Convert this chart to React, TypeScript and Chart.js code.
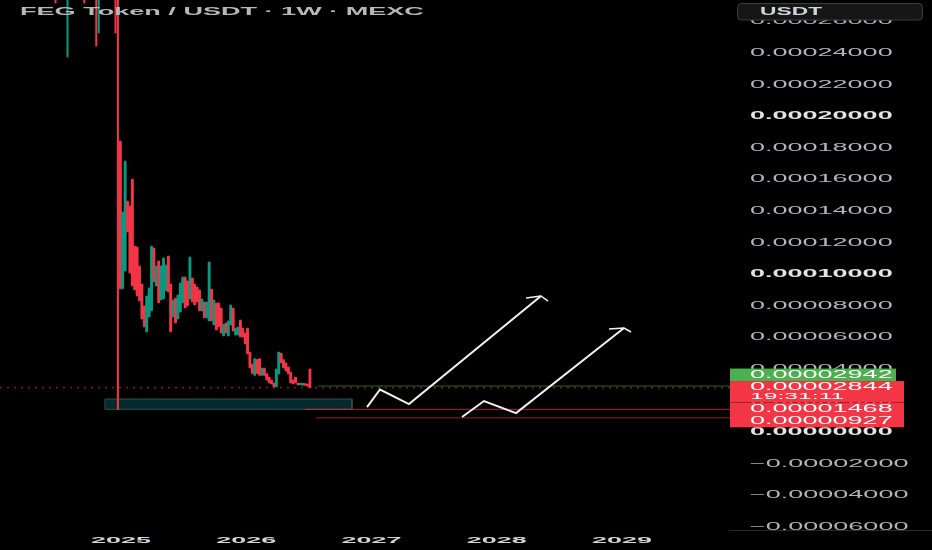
import React, { useEffect, useRef } from 'react';
import { Chart, registerables } from 'chart.js';
Chart.register(...registerables);

// values in micro-USDT (1e-6)
const U = 1e-6;

// week offsets relative to the week starting 30 Dec 2024
const weeks = [
  -27, -22, -15, -10, -9, -2, -1,
  0, 1, 2, 3, 4, 5, 6, 7, 8, 9,
  10, 11, 12, 13, 14, 15, 16, 17, 18, 19,
  20, 21, 22, 23, 24, 25, 26, 27, 28, 29,
  30, 31, 32, 33, 34, 35, 36, 37, 38, 39,
  40, 41, 42, 43, 44, 45, 46, 47, 48, 49,
  50, 51, 52, 53, 54, 55, 56, 57, 58, 59,
  60, 61, 62, 63, 64, 65, 66, 67, 68, 69,
  70, 71, 72, 73, 74, 75, 76, 77, 78, 79,
];
const opens = [
  330, 300, 340, 330, 298, 362, 318,
  184, 91.5, 102.5, 146, 143, 160, 117.7, 117, 105, 93.7,
  79.8, 64, 73.5, 77.3, 116.5, 93, 108.3, 84.3, 84.9, 90,
  111.4, 93.7, 73.5, 84.7, 72.2, 76.7, 82.4, 98, 95.6, 84.9,
  97.5, 93.7, 91.8, 89.9, 77.3, 82.2, 72.9, 71, 90.4, 68.4,
  81.6, 81.6, 78.4, 61.5, 68.9, 61.5, 68.4, 78.4, 62.1, 62.1,
  70.8, 65.7, 62.6, 65.7, 50.5, 43.0, 36.5, 45.8, 46.4, 36.5,
  40.4, 36.9, 34.7, 32.8, 31.0, 29.2, 37.4, 49.9, 45.8, 43.6,
  41.1, 37.9, 32.8, 34.7, 31.0, 30.4, 30.2, 30.7, 30.4, 39.9,
];
const highs = [
  345, 340, 352, 342, 346, 371, 380,
  184.5, 139.6, 171.8, 146.5, 143.3, 160.4, 118, 117.4, 105.4, 94,
  80.1, 86.4, 91.5, 118, 116.8, 105.4, 108.6, 105.4, 110.5, 106,
  111.7, 94, 83.9, 85.1, 87, 94.6, 98.4, 98.4, 95.9, 111.1,
  97.8, 94, 92.1, 90.2, 84.5, 82.6, 82.6, 107.9, 90.8, 83.9,
  82, 82, 78.8, 68.6, 69.3, 70.6, 80.7, 78.8, 66.1, 66.8,
  71.2, 66.1, 63, 66.1, 50.9, 43.4, 46.8, 46.2, 46.8, 40.8,
  40.8, 37.3, 35.1, 33.2, 31.3, 40.2, 50.9, 50.3, 46.2, 44,
  41.5, 38.3, 33.2, 35.1, 31.3, 31.3, 31.1, 31.0, 30.7, 40.2,
];
const lows = [
  271.8, 237.6, 271.8, 244.6, 252.8, 252.8, 14.68,
  90.8, 90.8, 102.2, 126.9, 100.9, 92.7, 90.2, 86.4, 83.2, 71.8,
  66.8, 63.6, 73.1, 76.9, 95.3, 92.7, 82, 83.9, 84.5, 89.6,
  88.9, 63.6, 73.1, 69.3, 71.8, 76.3, 82, 78.8, 80.1, 84.5,
  82.6, 80.7, 82.6, 76.9, 76.9, 72.5, 72.5, 70.6, 70.6, 68,
  64.9, 66.8, 63, 61.1, 63, 61.1, 68, 64.2, 61.7, 61.7,
  60.4, 60.4, 56, 49.7, 40.8, 37.3, 36.1, 37.3, 36.1, 36.1,
  36.1, 33.2, 31.3, 30.7, 28.8, 28.8, 37, 44, 40.8, 38.9,
  37, 31.3, 30.7, 31.3, 30.1, 30.1, 29.8, 29.8, 29.2, 28.4,
];
const closes = [
  300, 325, 305, 298, 332, 318, 286,
  91.5, 139, 171, 127.3, 101.3, 93, 90.5, 86.8, 83.6, 72.2,
  67.2, 86, 91.1, 117.6, 95.7, 105, 82.4, 105, 110.1, 105.6,
  89.3, 64, 83.5, 69.7, 86.6, 94.2, 98, 79.2, 80.5, 110.7,
  83, 81.1, 83, 77.3, 84.1, 72.9, 82.2, 107.5, 71, 83.5,
  65.3, 67.2, 63.4, 68.2, 63.4, 70.2, 80.3, 64.6, 65.7, 66.4,
  60.8, 60.8, 56.4, 50.1, 41.2, 37.7, 46.4, 37.7, 36.5, 40.4,
  36.5, 33.6, 31.7, 31.1, 29.2, 39.8, 50.5, 44.4, 41.2, 39.3,
  37.4, 31.7, 31.1, 31.7, 30.4, 31.0, 30.9, 30.1, 29.6, 28.44,
];

// axis ticks
const yearTicks = [2025, 2026, 2027, 2028, 2029];
const priceTicks = [
  -0.00006, -0.00004, -0.00002, 0, 0.00002, 0.00004, 0.00006, 0.00008,
  0.0001, 0.00012, 0.00014, 0.00016, 0.00018, 0.0002, 0.00022, 0.00024, 0.00026,
];

// price levels (µUSDT)
const lastPrice = 29.42;
const closePrice = 28.44;
const lowLevel1 = 14.68;
const lowLevel2 = 9.27;
const countdown = '19:31:11';
const lastPriceStart = 2026.573;
const low1Start = 2026.469;
const low2Start = 2026.557;

// drawn zone and arrows (x in years, y in µUSDT)
const zoneX = [2024.872, 2026.844];
const zoneY = [14.68, 21.2];
const arrow1X = [2026.964, 2027.068, 2027.299, 2028.353];
const arrow1Y = [16.1, 27.2, 18.0, 86.4];
const head1X = [2028.234, 2028.353, 2028.409];
const head1Y = [85.1, 86.4, 83.2];
const arrow2X = [2027.723, 2027.898, 2028.154, 2029.016];
const arrow2Y = [9.8, 19.9, 12.3, 66.1];
const head2X = [2028.896, 2029.016, 2029.072];
const head2Y = [65.5, 66.1, 63.6];

const X_MIN = 2024.034;
const X_MAX = 2029.902;
const Y_MIN = -61.7 * U;
const Y_MAX = 273.7 * U;

const RED = '#f23645';
const GREEN = '#089981';
const FONT = '"Liberation Sans", Arial, sans-serif';

const toYear = (w: number) => 2025 + (7 * w - 2) / 365.25;
const pts = (xs: number[], ys: number[]) => xs.map((x, i) => ({ x, y: ys[i] * U }));

function fmt(v: number) {
  const s = Math.abs(v).toFixed(8);
  return v < -1e-12 ? '\u2212' + s : s;
}

function sText(ctx: CanvasRenderingContext2D, text: string, x: number, y: number, size: number,
  weight: string, color: string, sx: number, align: string = 'left') {
  ctx.save();
  ctx.font = `${weight} ${size}px ${FONT}`;
  ctx.fillStyle = color;
  ctx.textBaseline = 'middle';
  ctx.textAlign = 'left';
  const w = ctx.measureText(text).width * sx;
  const x0 = align === 'center' ? x - w / 2 : align === 'right' ? x - w : x;
  ctx.translate(x0, y);
  ctx.scale(sx, 1);
  ctx.fillText(text, 0, 0);
  ctx.restore();
}

const overlay = {
  id: 'overlay',
  afterDatasetsDraw(chart: any) {
    const { ctx, chartArea, scales } = chart;
    const ys = scales.y;
    const xs = scales.x;
    const labelX = chartArea.right + 15;

    // bottom separator under price scale
    ctx.save();
    ctx.strokeStyle = '#2a2a2a';
    ctx.lineWidth = 1;
    ctx.beginPath();
    ctx.moveTo(chartArea.right - 6, chartArea.bottom + 0.5);
    ctx.lineTo(chart.width, chartArea.bottom + 0.5);
    ctx.stroke();
    ctx.restore();

    // price scale labels
    priceTicks.forEach((v) => {
      const py = ys.getPixelForValue(v);
      const bold = Math.round(v * 1e5) % 10 === 0;
      sText(ctx, fmt(v), labelX, py, 10, bold ? 'bold' : 'normal', bold ? '#e3e3e3' : '#b2b5be', 2.7);
    });

    // year labels
    yearTicks.forEach((yr) => {
      sText(ctx, String(yr), xs.getPixelForValue(yr), chartArea.bottom + 10, 9.5, 'bold', '#d1d4dc', 2.84, 'center');
    });

    // title
    sText(ctx, 'FEG Token / USDT \u00b7 1W \u00b7 MEXC', 20, 11.5, 11, 'bold', '#b8b8b8', 2.46);

    // USDT box
    ctx.save();
    ctx.fillStyle = '#161616';
    ctx.strokeStyle = '#3c3c3c';
    ctx.lineWidth = 1;
    ctx.beginPath();
    (ctx as any).roundRect(737.5, 3.5, 185, 16.5, 4);
    ctx.fill();
    ctx.stroke();
    ctx.restore();
    sText(ctx, 'USDT', 760, 12, 10, 'bold', '#d1d4dc', 2.28);

    // price labels on the scale
    const boxL = chartArea.right - 5;
    const yClose = ys.getPixelForValue(closePrice * U);
    const closeTop = yClose - 6.5;
    const closeBot = yClose + 15;
    const yLast = ys.getPixelForValue(lastPrice * U);
    const lastBot = Math.min(yLast + 6.5, closeTop);
    const lastTop = lastBot - 12.5;
    const yL1 = ys.getPixelForValue(lowLevel1 * U);
    const l1Top = Math.max(yL1 - 6.5, closeBot - 0.5);
    const yL2 = ys.getPixelForValue(lowLevel2 * U);
    const l2Top = Math.max(yL2 - 6.5, l1Top + 12);

    ctx.save();
    ctx.fillStyle = '#4caf50';
    ctx.fillRect(boxL, lastTop, 896 - boxL, lastBot - lastTop);
    ctx.fillStyle = RED;
    ctx.fillRect(boxL, closeTop, 904 - boxL, closeBot - closeTop);
    ctx.fillRect(boxL, l1Top, 904 - boxL, 12.5);
    ctx.fillRect(boxL, l2Top, 904 - boxL, 12.5);
    ctx.restore();

    sText(ctx, fmt(lastPrice * U), labelX, lastTop + 6.25, 10, 'normal', '#ffffff', 2.7);
    sText(ctx, fmt(closePrice * U), labelX, yClose, 10, 'normal', '#ffffff', 2.7);
    sText(ctx, countdown, labelX, yClose + 8.5, 9.5, 'normal', '#ffffff', 2.6);
    sText(ctx, fmt(lowLevel1 * U), labelX, l1Top + 6.25, 10, 'normal', '#ffffff', 2.7);
    sText(ctx, fmt(lowLevel2 * U), labelX, l2Top + 6.25, 10, 'normal', '#ffffff', 2.7);
  },
};

export default function App() {
  const ref = useRef<HTMLCanvasElement>(null);

  useEffect(() => {
    document.body.style.margin = '0';
    document.body.style.background = '#000';
    const xs = weeks.map(toYear);
    const colors = weeks.map((_, i) => (closes[i] >= opens[i] ? GREEN : RED));
    const wickData = xs.map((x, i) => ({ x, y: [lows[i] * U, highs[i] * U] }));
    const bodyData = xs.map((x, i) => ({ x, y: [opens[i] * U, closes[i] * U] }));

    const lineBase = {
      type: 'line' as const,
      pointRadius: 0,
      tension: 0,
      fill: false,
    };

    const chart = new Chart(ref.current as HTMLCanvasElement, {
      type: 'bar',
      data: {
        datasets: [
          {
            ...lineBase,
            data: pts(zoneX, [zoneY[1], zoneY[1]]),
            fill: { value: zoneY[0] * U },
            backgroundColor: '#032b2f',
            borderWidth: 0,
            order: 7,
          } as any,
          {
            ...lineBase,
            data: pts(
              [zoneX[0], zoneX[1], zoneX[1], zoneX[0], zoneX[0]],
              [zoneY[1], zoneY[1], zoneY[0], zoneY[0], zoneY[1]]
            ),
            borderColor: '#3e4a4b',
            borderWidth: 1,
            order: 6,
          } as any,
          {
            ...lineBase,
            data: [{ x: X_MIN, y: closePrice * U }, { x: X_MAX, y: closePrice * U }],
            borderColor: 'rgba(242,54,69,0.5)',
            borderWidth: 1.8,
            borderDash: [2, 5],
            order: 5,
          } as any,
          {
            ...lineBase,
            data: [{ x: lastPriceStart, y: lastPrice * U }, { x: X_MAX, y: lastPrice * U }],
            borderColor: 'rgba(76,175,80,0.55)',
            borderWidth: 1,
            order: 5,
          } as any,
          {
            ...lineBase,
            data: [{ x: low1Start, y: lowLevel1 * U }, { x: X_MAX, y: lowLevel1 * U }],
            borderColor: 'rgba(242,54,69,0.7)',
            borderWidth: 1,
            order: 5,
          } as any,
          {
            ...lineBase,
            data: [{ x: low2Start, y: lowLevel2 * U }, { x: X_MAX, y: lowLevel2 * U }],
            borderColor: 'rgba(242,54,69,0.6)',
            borderWidth: 1,
            order: 5,
          } as any,
          { ...lineBase, data: pts(arrow1X, arrow1Y), borderColor: '#f2f2f2', borderWidth: 2, order: 4 } as any,
          { ...lineBase, data: pts(head1X, head1Y), borderColor: '#f2f2f2', borderWidth: 1.5, order: 4 } as any,
          { ...lineBase, data: pts(arrow2X, arrow2Y), borderColor: '#f2f2f2', borderWidth: 2, order: 4 } as any,
          { ...lineBase, data: pts(head2X, head2Y), borderColor: '#f2f2f2', borderWidth: 1.5, order: 4 } as any,
          {
            type: 'bar',
            data: wickData,
            backgroundColor: colors,
            barThickness: 1.4,
            grouped: false,
            borderWidth: 0,
            order: 1,
          } as any,
          {
            type: 'bar',
            data: bodyData,
            backgroundColor: colors,
            barThickness: 2.2,
            minBarLength: 1,
            grouped: false,
            borderWidth: 0,
            order: 0,
          } as any,
        ],
      },
      options: {
        animation: false,
        responsive: true,
        maintainAspectRatio: false,
        events: [],
        layout: { padding: { left: 0, right: 197, top: 0, bottom: 20 } },
        plugins: { legend: { display: false }, tooltip: { enabled: false } },
        scales: {
          x: { type: 'linear', min: X_MIN, max: X_MAX, offset: false, display: false },
          y: { type: 'linear', min: Y_MIN, max: Y_MAX, display: false },
        },
      } as any,
      plugins: [overlay],
    });
    return () => chart.destroy();
  }, []);

  return (
    <div style={{ position: 'fixed', left: 0, top: 0, width: 932, height: 550, background: '#000' }}>
      <canvas ref={ref} />
    </div>
  );
}
